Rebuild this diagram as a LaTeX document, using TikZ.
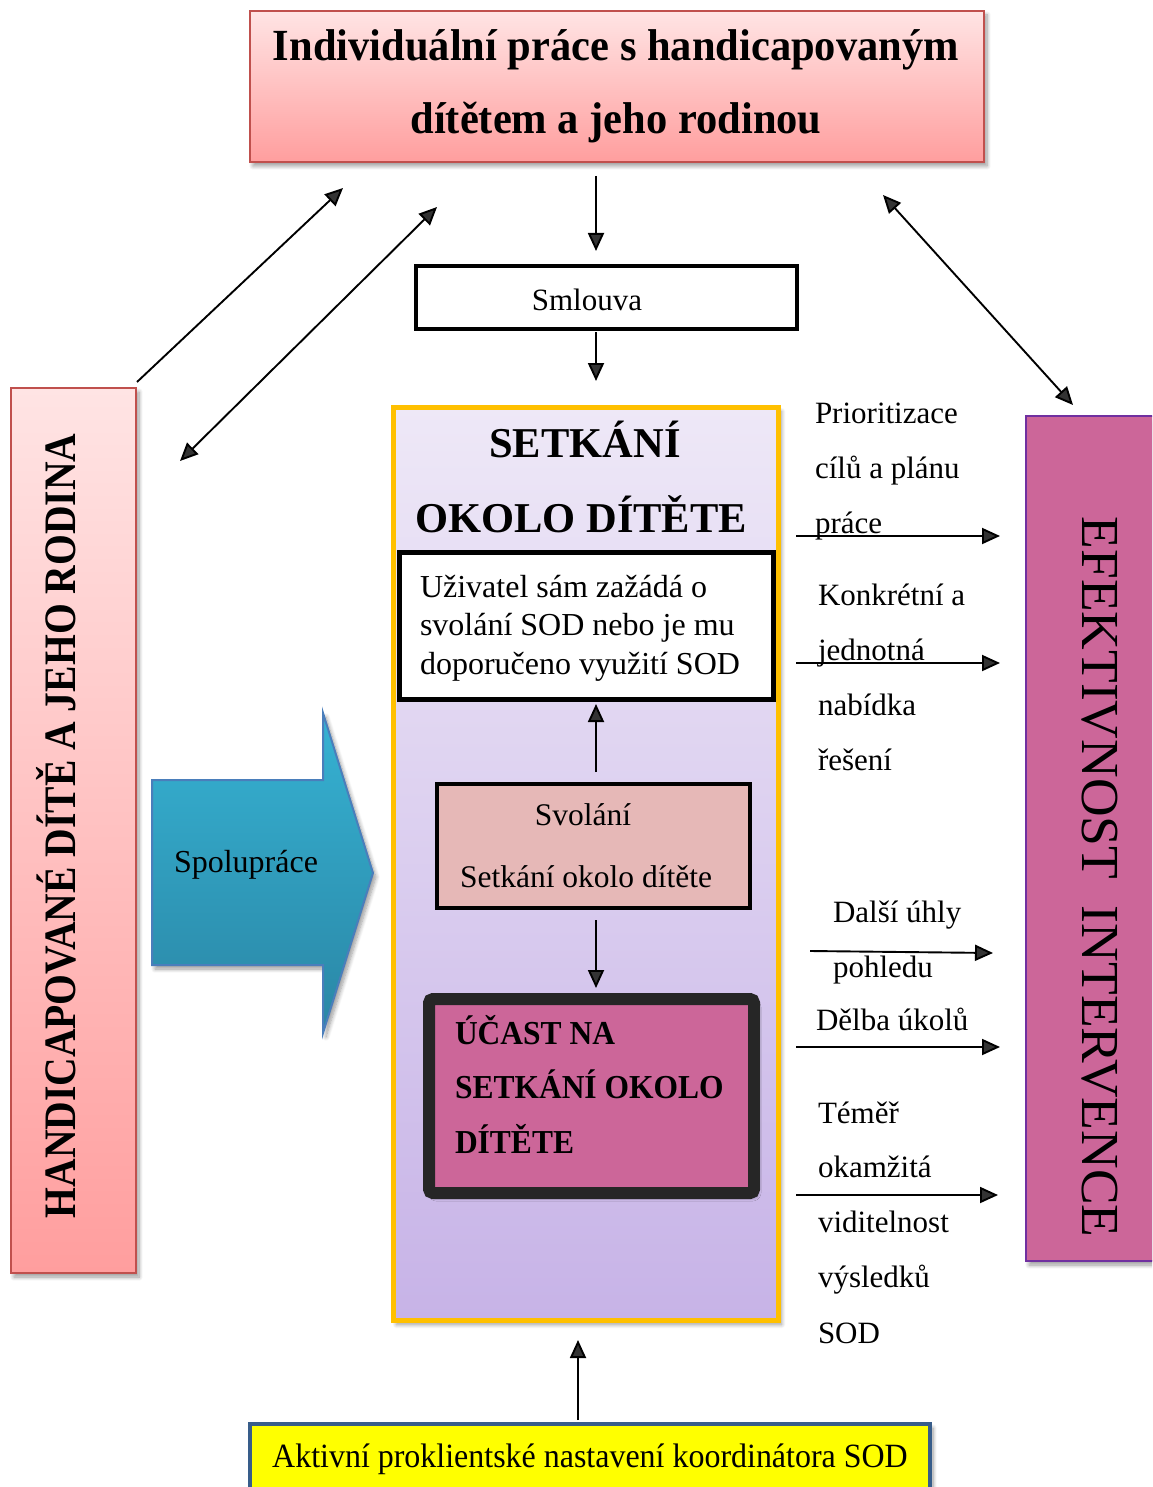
\documentclass[tikz,border=0pt]{standalone}
\usepackage{fontspec}
\setmainfont{Liberation Serif}
\newfontfamily\titlefont[FakeStretch=0.955]{Liberation Serif}
\newfontfamily\leftfont[FakeStretch=0.88]{Liberation Serif}
\newfontfamily\ucastfont[FakeStretch=0.94]{Liberation Serif}
\newfontfamily\botfont[FakeStretch=0.94]{Liberation Serif}
\usetikzlibrary{arrows.meta,shadows.blur}
\definecolor{redB}{HTML}{C0504D}
\definecolor{pinkT}{HTML}{FFE4E4}
\definecolor{pinkB}{HTML}{FF9E9E}
\definecolor{lavT}{HTML}{EEE8F7}
\definecolor{lavB}{HTML}{C7B3E7}
\definecolor{orangeB}{HTML}{FFC000}
\definecolor{rose}{HTML}{E6B8B7}
\definecolor{magenta}{HTML}{CC6699}
\definecolor{darkB}{HTML}{262626}
\definecolor{purpleB}{HTML}{7030A0}
\definecolor{cyanT}{HTML}{36B2D3}
\definecolor{cyanB}{HTML}{2A86A5}
\definecolor{blueB}{HTML}{4A7EBB}
\definecolor{yel}{HTML}{FFFF00}
\definecolor{navyB}{HTML}{385D8A}
\begin{document}
\begin{tikzpicture}[x=1pt,y=-1pt,
  box/.style={anchor=north west, inner sep=0pt, outer sep=0pt},
  shad/.style={blur shadow={shadow xshift=3pt, shadow yshift=-4pt, shadow blur radius=4pt, shadow blur steps=8, shadow opacity=40}},
  arr/.style={line width=1.9pt, -{Triangle[length=18pt,width=16pt]}},
  darr/.style={line width=1.9pt, {Triangle[length=18pt,width=16pt]}-{Triangle[length=18pt,width=16pt]}},
  txt/.style={inner sep=0pt, outer sep=0pt},
  lbl/.style={txt, anchor=base west, font=\fontsize{31}{37}\selectfont},
]
\useasboundingbox (0,0) rectangle (1152,1487);
\clip (0,0) rectangle (1152,1487);

% top box
\node[box, minimum width=734pt, minimum height=151pt, draw=redB, line width=2pt,
      top color=pinkT, bottom color=pinkB, shad] (topbox) at (250,11) {};
\node[txt, anchor=base, font=\titlefont\bfseries\fontsize{44.5}{53}\selectfont] (t1) at (616,61) {Individuální práce s handicapovaným};
\node[txt, anchor=base, font=\titlefont\bfseries\fontsize{44.5}{53}\selectfont] (t2) at (616,134) {dítětem a jeho rodinou};

% Smlouva
\node[box, minimum width=381pt, minimum height=63pt, draw, line width=4pt, fill=white] (smlouva) at (416,266) {};
\node[txt, anchor=base, font=\fontsize{31}{37}\selectfont] (smt) at (587,310) {Smlouva};

% left box
\node[box, minimum width=125pt, minimum height=885pt, draw=redB, line width=2pt,
      top color=pinkT, bottom color=pinkB, shad] (leftbox) at (11,388) {};
\node[txt, rotate=90, anchor=base, font=\leftfont\bfseries\fontsize{45}{54}\selectfont] (lt) at (75,826) {HANDICAPOVANÉ DÍTĚ A JEHO RODINA};

% right box
\node[box, minimum width=140pt, minimum height=845pt, draw=purpleB, line width=2pt,
      fill=magenta, shad] (rightbox) at (1026,416) {};
\node[txt, rotate=-90, anchor=base, font=\fontsize{53.5}{60}\selectfont] (rt) at (1082,877) {EFEKTIVNOST\ \ INTERVENCE};

% Setkani outer box
\node[box, minimum width=385pt, minimum height=913pt, draw=orangeB, line width=5pt,
      top color=lavT, bottom color=lavB, shad] (setk) at (393.5,407.5) {};
\node[txt, anchor=base, font=\bfseries\fontsize{42.5}{50}\selectfont] (s1) at (585,457) {SETKÁNÍ};
\node[txt, anchor=base, font=\bfseries\fontsize{42.5}{50}\selectfont] (s2) at (581,532) {OKOLO DÍTĚTE};

% Uzivatel box
\node[box, minimum width=374pt, minimum height=147pt, draw, line width=5pt, fill=white] (uziv) at (399.5,552.5) {};
\node[txt, anchor=base west, font=\fontsize{32}{38}\selectfont] (u1) at (420,597) {Uživatel sám zažádá o};
\node[txt, anchor=base west, font=\fontsize{32}{38}\selectfont] (u2) at (420,635) {svolání SOD nebo je mu};
\node[txt, anchor=base west, font=\fontsize{32}{38}\selectfont] (u3) at (420,674) {doporučeno využití SOD};

% Svolani box
\node[box, minimum width=313pt, minimum height=124pt, draw, line width=4pt, fill=rose] (svol) at (437,784) {};
\node[txt, anchor=base, font=\fontsize{31.5}{38}\selectfont] (v1) at (583,825) {Svolání};
\node[txt, anchor=base, font=\fontsize{31.5}{38}\selectfont] (v2) at (586,887) {Setkání okolo dítěte};

% Ucast box
\node[box, minimum width=325pt, minimum height=194pt, draw=darkB, line width=12pt, rounded corners=4pt, fill=magenta, shad] (ucast) at (429,999) {};
\node[txt, anchor=base west, font=\ucastfont\bfseries\fontsize{33.5}{40}\selectfont] (c1) at (455,1044) {ÚČAST NA};
\node[txt, anchor=base west, font=\ucastfont\bfseries\fontsize{33.5}{40}\selectfont] (c2) at (455,1098) {SETKÁNÍ OKOLO};
\node[txt, anchor=base west, font=\ucastfont\bfseries\fontsize{33.5}{40}\selectfont] (c3) at (455,1153) {DÍTĚTE};

% Spoluprace arrow shape
\path[draw=blueB, line width=2pt, top color=cyanT, bottom color=cyanB, shad]
  (152,780) -- (323,780) -- (323,713) -- (373,873) -- (323,1033) -- (323,965) -- (152,965) -- cycle;
\node[txt, anchor=base west, font=\fontsize{32}{38}\selectfont] (spol) at (174,872) {Spolupráce};

% bottom box
\node[box, minimum width=680pt, minimum height=90pt, draw=navyB, line width=4pt, fill=yel, shad] (bot) at (250,1424) {};
\node[txt, anchor=base, font=\botfont\fontsize{34}{40}\selectfont] (bt) at (590,1467) {Aktivní proklientské nastavení koordinátora SOD};

% right-side labels
\node[lbl] (p1) at (815,423) {Prioritizace};
\node[lbl] (p2) at (815,478) {cílů a plánu};
\node[lbl] (p3) at (815,533) {práce};
\node[lbl] (k1) at (818,605) {Konkrétní a};
\node[lbl] (k2) at (818,660) {jednotná};
\node[lbl] (k3) at (818,715) {nabídka};
\node[lbl] (k4) at (818,770) {řešení};
\node[lbl] (d1) at (833,922) {Další úhly};
\node[lbl] (d2) at (833,977) {pohledu};
\node[lbl] (e1) at (816,1030) {Dělba úkolů};
\node[lbl] (m1) at (818,1123) {Téměř};
\node[lbl] (m2) at (818,1177) {okamžitá};
\node[lbl] (m3) at (818,1232) {viditelnost};
\node[lbl] (m4) at (818,1287) {výsledků};
\node[lbl] (m5) at (818,1343) {SOD};

% coordinates for free connector ends
\coordinate (a1s) at (596,176);  \coordinate (a1e) at (596,251);
\coordinate (a2s) at (596,332);  \coordinate (a2e) at (596,381);
\coordinate (a3s) at (596,772);  \coordinate (a3e) at (596,704);
\coordinate (a4s) at (596,920);  \coordinate (a4e) at (596,988);
\coordinate (a5s) at (578,1420); \coordinate (a5e) at (578,1340);
\coordinate (dA1) at (137,382);  \coordinate (dA2) at (343,188);
\coordinate (dB1) at (180,461);  \coordinate (dB2) at (437,207);
\coordinate (dC1) at (883,195);  \coordinate (dC2) at (1073,405);
\coordinate (r1s) at (796,536);  \coordinate (r1e) at (1000,536);
\coordinate (r2s) at (796,663);  \coordinate (r2e) at (1000,663);
\coordinate (r3s) at (810,951);  \coordinate (r3e) at (993,953);
\coordinate (r4s) at (796,1047); \coordinate (r4e) at (1000,1047);
\coordinate (r5s) at (796,1195); \coordinate (r5e) at (998,1195);

\draw[arr] (a1s) -- (a1e);
\draw[arr] (a2s) -- (a2e);
\draw[arr] (a3s) -- (a3e);
\draw[arr] (a4s) -- (a4e);
\draw[arr] (a5s) -- (a5e);
\draw[arr] (dA1) -- (dA2);
\draw[darr] (dB1) -- (dB2);
\draw[darr] (dC1) -- (dC2);
\draw[arr] (r1s) -- (r1e);
\draw[arr] (r2s) -- (r2e);
\draw[arr] (r3s) -- (r3e);
\draw[arr] (r4s) -- (r4e);
\draw[arr] (r5s) -- (r5e);
\end{tikzpicture}
\end{document}
